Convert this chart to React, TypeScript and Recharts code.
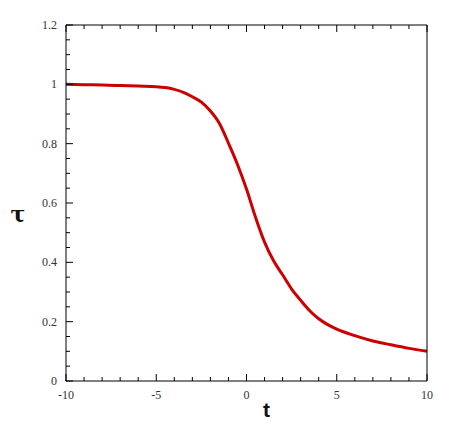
import React from "react";
import { LineChart, Line, XAxis, YAxis } from "recharts";

// curve
const tValues = [
  -10, -9, -8, -7, -6, -5, -4.5, -4, -3.5, -3, -2.5, -2, -1.5, -1, -0.5, 0,
  0.5, 1, 1.5, 2, 2.5, 3, 3.5, 4, 4.5, 5, 6, 7, 8, 9, 10,
];
const tauValues = [
  1.0, 0.999, 0.998, 0.996, 0.994, 0.992, 0.989, 0.983, 0.973, 0.958, 0.94,
  0.91, 0.868, 0.802, 0.73, 0.647, 0.552, 0.468, 0.405, 0.358, 0.31, 0.272,
  0.237, 0.21, 0.19, 0.175, 0.153, 0.135, 0.122, 0.11, 0.1,
];

const xTicks = [-10, -9, -8, -7, -6, -5, -4, -3, -2, -1, 0, 1, 2, 3, 4, 5, 6, 7, 8, 9, 10];
const xLabels = [-10, -5, 0, 5, 10];
const yTicks = [
  0, 0.05, 0.1, 0.15, 0.2, 0.25, 0.3, 0.35, 0.4, 0.45, 0.5, 0.55, 0.6, 0.65,
  0.7, 0.75, 0.8, 0.85, 0.9, 0.95, 1, 1.05, 1.1, 1.15, 1.2,
];
const yLabels = [0, 0.2, 0.4, 0.6, 0.8, 1, 1.2];

const data = tValues.map((t, i) => ({ t, tau: tauValues[i] }));

const labelFont = { fontFamily: "'Liberation Serif', serif", fontSize: 12, fill: "#333" };

const XTick = (props: any) => {
  const { x, y, payload, side } = props;
  const major = xLabels.includes(payload.value);
  const len = major ? 7 : 4;
  const dir = side === "bottom" ? -1 : 1;
  return (
    <g>
      <line x1={x} x2={x} y1={y} y2={y + dir * len} stroke="#000" strokeWidth={1} />
      {side === "bottom" && major && (
        <text x={x} y={y + 18} textAnchor="middle" {...labelFont}>
          {payload.value}
        </text>
      )}
    </g>
  );
};

const YTick = (props: any) => {
  const { x, y, payload, side } = props;
  const major = yLabels.some((v) => Math.abs(v - payload.value) < 1e-6);
  const len = major ? 7 : 4;
  const dir = side === "left" ? 1 : -1;
  return (
    <g>
      <line x1={x} x2={x + dir * len} y1={y} y2={y} stroke="#000" strokeWidth={1} />
      {side === "left" && major && (
        <text x={x - 9} y={y + 4} textAnchor="end" {...labelFont}>
          {payload.value}
        </text>
      )}
    </g>
  );
};

export default function App() {
  return (
    <div style={{ position: "absolute", left: 0, top: 0, background: "#fff" }}>
      <LineChart
        width={459}
        height={428}
        data={data}
        margin={{ top: 0, right: 0, bottom: 0, left: 0 }}
      >
        <XAxis
          xAxisId="bottom"
          dataKey="t"
          type="number"
          domain={[-10, 10]}
          ticks={xTicks}
          interval={0}
          height={47}
          tickSize={0}
          tickMargin={0}
          axisLine={{ stroke: "#000" }}
          tickLine={false}
          tick={(p: any) => <XTick {...p} side="bottom" />}
          label={(p: any) => {
            const vb = p.viewBox;
            return (
              <text
                x={vb.x + vb.width / 2 + 20}
                y={vb.y + 36}
                textAnchor="middle"
                fontFamily="'Liberation Sans', sans-serif"
                fontWeight="bold"
                fontSize={21}
                fill="#111"
              >
                t
              </text>
            );
          }}
        />
        <XAxis
          xAxisId="top"
          orientation="top"
          dataKey="t"
          type="number"
          domain={[-10, 10]}
          ticks={xTicks}
          interval={0}
          height={25}
          tickSize={0}
          tickMargin={0}
          axisLine={{ stroke: "#000" }}
          tickLine={false}
          tick={(p: any) => <XTick {...p} side="top" />}
        />
        <YAxis
          yAxisId="left"
          type="number"
          domain={[0, 1.2]}
          ticks={yTicks}
          interval={0}
          width={66}
          tickSize={0}
          tickMargin={0}
          axisLine={{ stroke: "#000" }}
          tickLine={false}
          tick={(p: any) => <YTick {...p} side="left" />}
          label={(p: any) => {
            const vb = p.viewBox;
            return (
              <text
                x={18}
                y={vb.y + vb.height / 2 + 19}
                textAnchor="middle"
                fontFamily="'DejaVu Serif', serif"
                fontWeight="bold"
                fontSize={22}
                fill="#111"
              >
                τ
              </text>
            );
          }}
        />
        <YAxis
          yAxisId="right"
          orientation="right"
          type="number"
          domain={[0, 1.2]}
          ticks={yTicks}
          interval={0}
          width={32}
          tickSize={0}
          tickMargin={0}
          axisLine={{ stroke: "#000" }}
          tickLine={false}
          tick={(p: any) => <YTick {...p} side="right" />}
        />
        <Line
          xAxisId="bottom"
          yAxisId="left"
          type="monotone"
          dataKey="tau"
          stroke="#cc0000"
          strokeWidth={3}
          dot={false}
          isAnimationActive={false}
        />
      </LineChart>
    </div>
  );
}
